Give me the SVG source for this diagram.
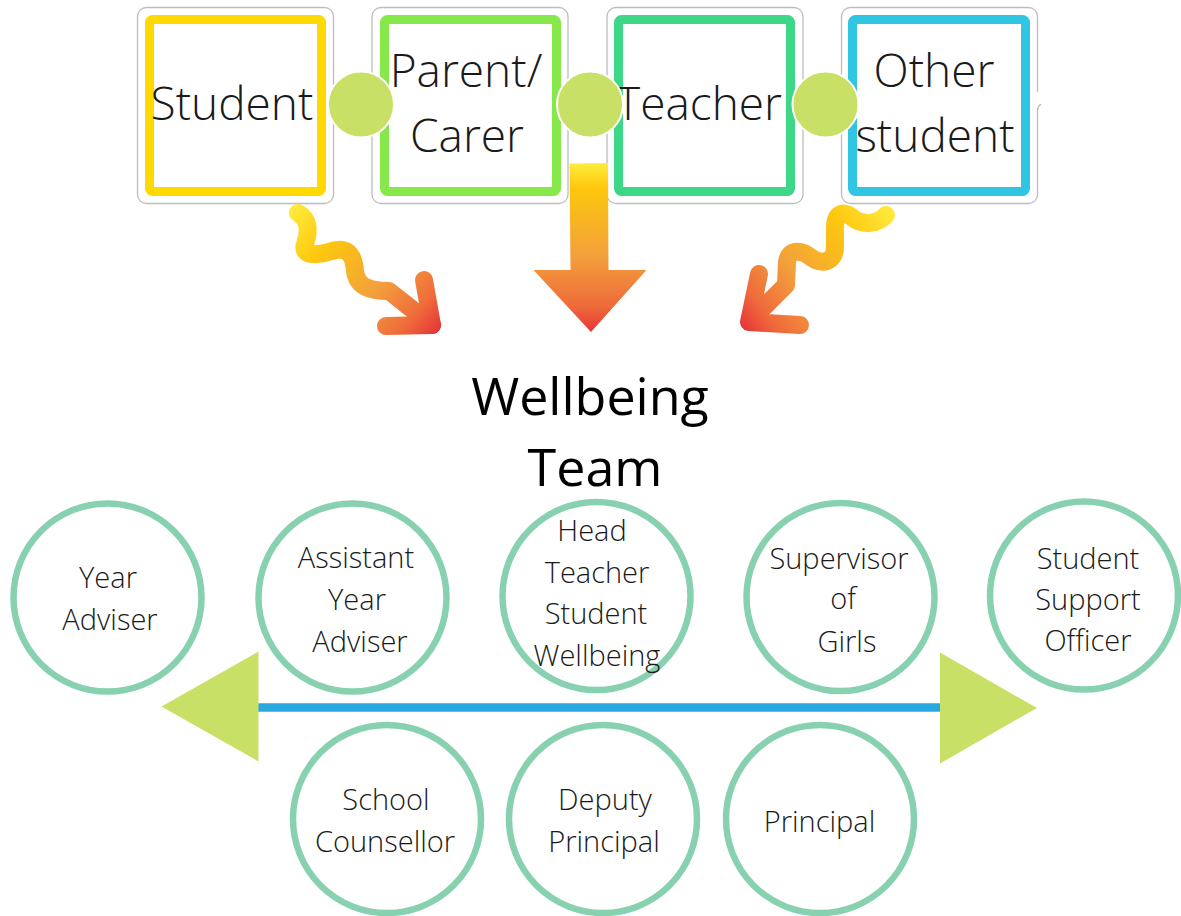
<svg xmlns="http://www.w3.org/2000/svg" width="1181" height="916" viewBox="0 0 1181 916">
<defs>
<style>
.frame{fill:#fff;stroke:#bdbdbd;stroke-width:1.3}
.box{fill:#fff;stroke-width:9;stroke-linejoin:round}
.dot{fill:#c8e066;stroke:#fff;stroke-width:2}
.bt{font-family:"Open Sans","Liberation Sans",sans-serif;font-weight:300;font-size:46px;fill:#1a1a1a;text-anchor:middle}
.ct{font-family:"Open Sans","Liberation Sans",sans-serif;font-weight:300;font-size:29px;fill:#1a1a1a;text-anchor:middle}
.ring{fill:#fff;stroke:#88d1b0;stroke-width:6.5}
.title{font-family:"Open Sans","Liberation Sans",sans-serif;font-weight:400;font-size:52px;fill:#000;text-anchor:middle}
.squig{fill:none;stroke-width:18;stroke-linecap:round;stroke-linejoin:round}
.tri{fill:#c8e066}
</style>
<linearGradient id="gMid" gradientUnits="userSpaceOnUse" x1="0" y1="163" x2="0" y2="332">
<stop offset="0" stop-color="#ffec3a"/>
<stop offset="0.15" stop-color="#fdc70c"/>
<stop offset="0.55" stop-color="#f3a03c"/>
<stop offset="0.85" stop-color="#ee6a3a"/>
<stop offset="1" stop-color="#e63638"/>
</linearGradient>
<linearGradient id="gLeft" gradientUnits="userSpaceOnUse" x1="295" y1="208" x2="438" y2="332">
<stop offset="0" stop-color="#ffe93b"/>
<stop offset="0.25" stop-color="#fdc70e"/>
<stop offset="0.6" stop-color="#f3a13b"/>
<stop offset="0.85" stop-color="#ef6b3b"/>
<stop offset="1" stop-color="#e63538"/>
</linearGradient>
<linearGradient id="gRight" gradientUnits="userSpaceOnUse" x1="890" y1="212" x2="742" y2="328">
<stop offset="0" stop-color="#ffe93b"/>
<stop offset="0.25" stop-color="#fdc70e"/>
<stop offset="0.6" stop-color="#f3a13b"/>
<stop offset="0.85" stop-color="#ef6b3b"/>
<stop offset="1" stop-color="#e63538"/>
</linearGradient>
</defs>
<rect width="1181" height="916" fill="#fff"/>

<g id="node-student">
<rect class="frame" x="137.5" y="7.5" width="196" height="196" rx="9"/>
<rect class="box" x="149.5" y="19.5" width="172" height="172" rx="3" stroke="#ffd900"/>
<text class="bt" x="232" y="120">Student</text>
</g>
<g id="node-parent">
<rect class="frame" x="372" y="7.5" width="196" height="196" rx="9"/>
<rect class="box" x="384.5" y="19.5" width="172" height="172" rx="3" stroke="#87e84b"/>
<text class="bt" x="466" y="87">Parent/</text>
<text class="bt" x="467" y="151.5">Carer</text>
</g>
<g id="node-teacher">
<rect class="frame" x="607" y="7.5" width="196" height="196" rx="9"/>
<rect class="box" x="618.5" y="19.5" width="172" height="172" rx="3" stroke="#3dd787"/>
<text class="bt" x="699" y="120">Teacher</text>
</g>
<g id="node-other">
<rect class="frame" x="841.5" y="7.5" width="196" height="196" rx="9"/>
<rect x="1034" y="92" width="8" height="16" fill="#fff"/>
<path d="M1037.5 110 Q1038 106 1041 104" fill="none" stroke="#bdbdbd" stroke-width="1.3"/>
<rect class="box" x="852.5" y="19.5" width="173" height="172" rx="3" stroke="#30c5e0"/>
<text class="bt" x="934" y="87">Other</text>
<text class="bt" x="935" y="151.5">student</text>
</g>

<g id="connectors">
<circle class="dot" cx="361" cy="104.5" r="33"/>
<circle class="dot" cx="590" cy="104.5" r="33"/>
<circle class="dot" cx="825.5" cy="104.5" r="33"/>
<path d="M569.5 163.5 L608 163 L608.5 270 L646.5 270 L591 332 L533.5 270 L570.5 270 Z" fill="url(#gMid)"/>
<path class="squig" stroke="url(#gLeft)" d="M298 213 C310 220 309 232 305 244 C301 256 316 256 332 251 C350 246 354 258 355 271 C357 287 370 291 389 291 L432 325"/>
<path class="squig" stroke="url(#gLeft)" d="M424 280 L432 325 L386 326"/>
<path class="squig" stroke="url(#gRight)" d="M886 215 C878 224 863 226 853 218 C843 210 835 213 835 228 L835 247 C835 262 822 265 812 258 C802 250 789 248 787 262 L786 285 L750 321"/>
<path class="squig" stroke="url(#gRight)" d="M759 274 L749 322 L800 325"/>
<line x1="256" y1="707.5" x2="942" y2="707.5" stroke="#29a8e0" stroke-width="8.5"/>
<polygon class="tri" points="258.5,651.5 258.5,761.5 161.5,706.5"/>
<polygon class="tri" points="940,652.5 940,763.5 1037,708"/>
</g>

<g id="node-title">
<text class="title" x="590" y="415">Wellbeing</text>
<text class="title" x="595" y="485.5">Team</text>
</g>

<g id="node-year-adviser">
<circle class="ring" cx="107.5" cy="597.5" r="94"/>
<text class="ct" x="108" y="588">Year</text>
<text class="ct" x="110" y="630">Adviser</text>
</g>
<g id="node-assistant">
<circle class="ring" cx="352.5" cy="597.5" r="94"/>
<text class="ct" x="356" y="568">Assistant</text>
<text class="ct" x="357" y="610">Year</text>
<text class="ct" x="360" y="651.5">Adviser</text>
</g>
<g id="node-head-teacher">
<circle class="ring" cx="596.5" cy="596" r="94"/>
<text class="ct" x="592" y="541">Head</text>
<text class="ct" x="597" y="582.5">Teacher</text>
<text class="ct" x="596" y="624">Student</text>
<text class="ct" x="597" y="665.5">Wellbeing</text>
</g>
<g id="node-supervisor">
<circle class="ring" cx="840.5" cy="597" r="94"/>
<text class="ct" x="839" y="569">Supervisor</text>
<text class="ct" x="843" y="609">of</text>
<text class="ct" x="847" y="651.5">Girls</text>
</g>
<g id="node-support-officer">
<circle class="ring" cx="1084" cy="595.5" r="94"/>
<text class="ct" x="1088" y="568.5">Student</text>
<text class="ct" x="1088" y="610">Support</text>
<text class="ct" x="1088" y="651">Officer</text>
</g>
<g id="node-counsellor">
<circle class="ring" cx="387" cy="819" r="94"/>
<text class="ct" x="386" y="810">School</text>
<text class="ct" x="385" y="851.5">Counsellor</text>
</g>
<g id="node-deputy">
<circle class="ring" cx="603" cy="819" r="94"/>
<text class="ct" x="605" y="810">Deputy</text>
<text class="ct" x="604" y="851.5">Principal</text>
</g>
<g id="node-principal">
<circle class="ring" cx="820" cy="819" r="94"/>
<text class="ct" x="819.5" y="831.5">Principal</text>
</g>
</svg>
